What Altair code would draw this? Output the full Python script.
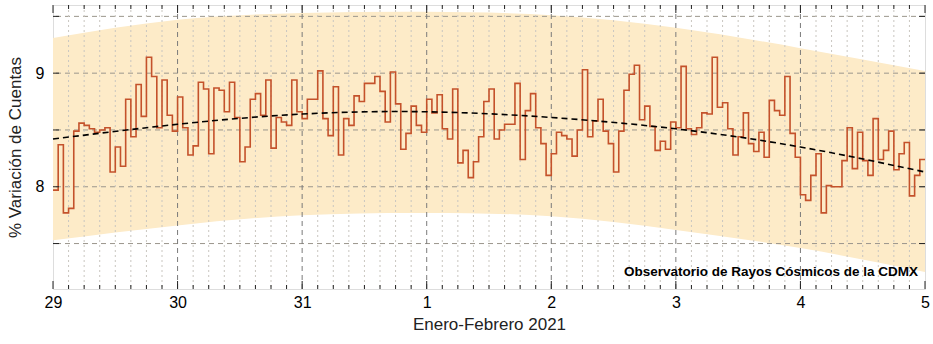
import json
import altair as alt
import pandas as pd

# ---------------- data ----------------
day_labels = ["29", "30", "31", "1", "2", "3", "4", "5"]
day_hours = [0, 24, 48, 72, 96, 120, 144, 168]

day29 = [7.97, 8.37, 7.77, 7.81, 8.49, 8.56, 8.54, 8.51, 8.48, 8.50, 8.52, 8.13,
         8.35, 8.18, 8.77, 8.44, 8.90, 8.62, 9.14, 8.97, 8.52, 8.94, 8.63, 8.49]
day30 = [8.79, 8.52, 8.28, 8.36, 8.92, 8.86, 8.29, 8.87, 8.85, 8.66, 8.92, 8.61,
         8.22, 8.35, 8.77, 8.82, 8.63, 8.94, 8.34, 8.61, 8.57, 8.54, 8.94, 8.66]
day31 = [8.60, 8.77, 8.77, 9.02, 8.60, 8.45, 8.88, 8.28, 8.60, 8.54, 8.80, 8.75,
         8.91, 8.91, 8.97, 8.84, 8.57, 9.01, 8.73, 8.33, 8.47, 8.71, 8.54, 8.48]
day01 = [8.77, 8.65, 8.81, 8.51, 8.42, 8.86, 8.21, 8.32, 8.08, 8.22, 8.44, 8.75,
         8.86, 8.42, 8.50, 8.55, 8.55, 8.91, 8.24, 8.67, 8.82, 8.52, 8.38, 8.10]
day02 = [8.29, 8.48, 8.45, 8.42, 8.27, 8.50, 9.03, 8.44, 8.58, 8.77, 8.49, 8.38,
         8.13, 8.49, 8.85, 8.99, 9.07, 8.59, 8.71, 8.53, 8.32, 8.40, 8.33, 8.57]
day03 = [8.52, 9.06, 8.51, 8.46, 8.52, 8.65, 8.64, 9.14, 8.70, 8.74, 8.51, 8.28,
         8.44, 8.65, 8.38, 8.31, 8.48, 8.26, 8.76, 8.67, 8.63, 8.97, 8.47, 8.26]
day04 = [7.93, 7.88, 8.10, 8.29, 7.77, 8.01, 8.00, 8.00, 8.23, 8.52, 8.16, 8.48,
         8.23, 8.10, 8.60, 8.24, 8.32, 8.49, 8.15, 8.29, 8.39, 7.92, 8.10, 8.24]

trend_vals = [8.42, 8.55, 8.64, 8.66, 8.61, 8.51, 8.35, 8.13]
band_upper = [9.31, 9.47, 9.53, 9.54, 9.51, 9.40, 9.22, 9.02]
band_lower = [7.53, 7.66, 7.75, 7.77, 7.74, 7.62, 7.46, 7.25]

y_grid = [7.5, 8.0, 8.5, 9.0, 9.5]
y_labels = [8, 9]
note = ["Observatorio de Rayos Cósmicos de la CDMX"]

# ---------------- tables ----------------
counts = day29 + day30 + day31 + day01 + day02 + day03 + day04
n = len(counts)
step_df = pd.DataFrame({"h": list(range(n)) + [n], "v": counts + [counts[-1]]})
curve_df = pd.DataFrame({"h": day_hours, "t": trend_vals, "hi": band_upper, "lo": band_lower})
hgrid_df = pd.DataFrame({"g": y_grid})
minor_df = pd.DataFrame({"h": [h for h in range(0, n + 1, 3) if h % 24 != 0]})
major_df = pd.DataFrame({"h": day_hours})
major_in_df = pd.DataFrame({"h": day_hours[1:-1]})
note_df = pd.DataFrame({"txt": note})

W, H = 872, 284
FONT = "Liberation Sans"
xs = alt.Scale(domain=[0, n], nice=False, zero=False)
ys = alt.Scale(domain=[7.1, 9.6], nice=False, zero=False)

label_expr = json.dumps(day_labels) + "[round(datum.value / 24)]"
x_axis = alt.Axis(values=day_hours, labelExpr=label_expr, title="Enero-Febrero 2021",
                  grid=False, ticks=False, domain=False, labelPadding=5,
                  labelFontSize=16, titleFontSize=17, titlePadding=6,
                  labelOverlap=False, labelFlush=False, labelFont=FONT, titleFont=FONT,
                  titleFontWeight="normal", labelColor="black", titleColor="#222")
y_axis = alt.Axis(values=y_labels, title="% Variación de Cuentas", grid=False, ticks=False,
                  domain=False, labelPadding=9, labelFontSize=16, titleFontSize=17,
                  titlePadding=11, labelFont=FONT, titleFont=FONT, titleFontWeight="normal",
                  labelColor="black", titleColor="#222")


def X(field):
    return alt.X(field, scale=xs, axis=x_axis)


def Y(field):
    return alt.Y(field, scale=ys, axis=y_axis)


band = alt.Chart(curve_df).mark_area(color="#FDEBC8", interpolate="natural").encode(
    x=X("h:Q"), y=Y("lo:Q"), y2="hi:Q",
)

hgrid = alt.Chart(hgrid_df).mark_rule(color="#9b968c", strokeDash=[5, 4], strokeWidth=1).encode(
    y=Y("g:Q")
)
vminor = alt.Chart(minor_df).mark_rule(color="#c9c6c0", strokeDash=[2, 3], strokeWidth=1).encode(
    x=X("h:Q")
)
vmajor = alt.Chart(major_in_df).mark_rule(color="#7a7a7a", strokeDash=[5, 4], strokeWidth=1).encode(
    x=X("h:Q")
)

step = alt.Chart(step_df).mark_line(interpolate="step-after", color="#C4522B", strokeWidth=1.6).encode(
    x=X("h:Q"), y=Y("v:Q"),
)
trend = alt.Chart(curve_df).mark_line(interpolate="natural", color="black", strokeDash=[6, 4],
                                      strokeWidth=1.6).encode(
    x=X("h:Q"), y=Y("t:Q"),
)

tick_style = dict(color="#222", strokeWidth=1)
bot_minor = alt.Chart(minor_df).mark_rule(**tick_style).encode(
    x=X("h:Q"), y=alt.value(H), y2=alt.value(H - 4))
bot_major = alt.Chart(major_df).mark_rule(**tick_style).encode(
    x=X("h:Q"), y=alt.value(H), y2=alt.value(H - 8))
top_minor = alt.Chart(minor_df).mark_rule(**tick_style).encode(
    x=X("h:Q"), y=alt.value(0), y2=alt.value(4))
top_major = alt.Chart(major_df).mark_rule(**tick_style).encode(
    x=X("h:Q"), y=alt.value(0), y2=alt.value(8))
left_t = alt.Chart(hgrid_df).mark_rule(**tick_style).encode(
    y=Y("g:Q"), x=alt.value(0), x2=alt.value(6))
right_t = alt.Chart(hgrid_df).mark_rule(**tick_style).encode(
    y=Y("g:Q"), x=alt.value(W), x2=alt.value(W - 6))

label = alt.Chart(note_df).mark_text(font=FONT, fontSize=13.5, fontWeight="bold", color="black",
                                     align="right", baseline="middle").encode(
    text="txt:N", x=alt.value(W - 7), y=alt.value(267))

chart = alt.layer(
    band, hgrid, vminor, vmajor, step, trend,
    bot_minor, bot_major, top_minor, top_major, left_t, right_t, label,
).properties(
    width=W, height=H,
    autosize=alt.AutoSizeParams(type="none"),
    padding={"left": 53, "top": 5, "right": 8, "bottom": 55},
).configure_view(stroke="black", strokeWidth=1.6).configure(background="white")

chart.save("out.html", embed_options={"renderer": "svg", "actions": False})
